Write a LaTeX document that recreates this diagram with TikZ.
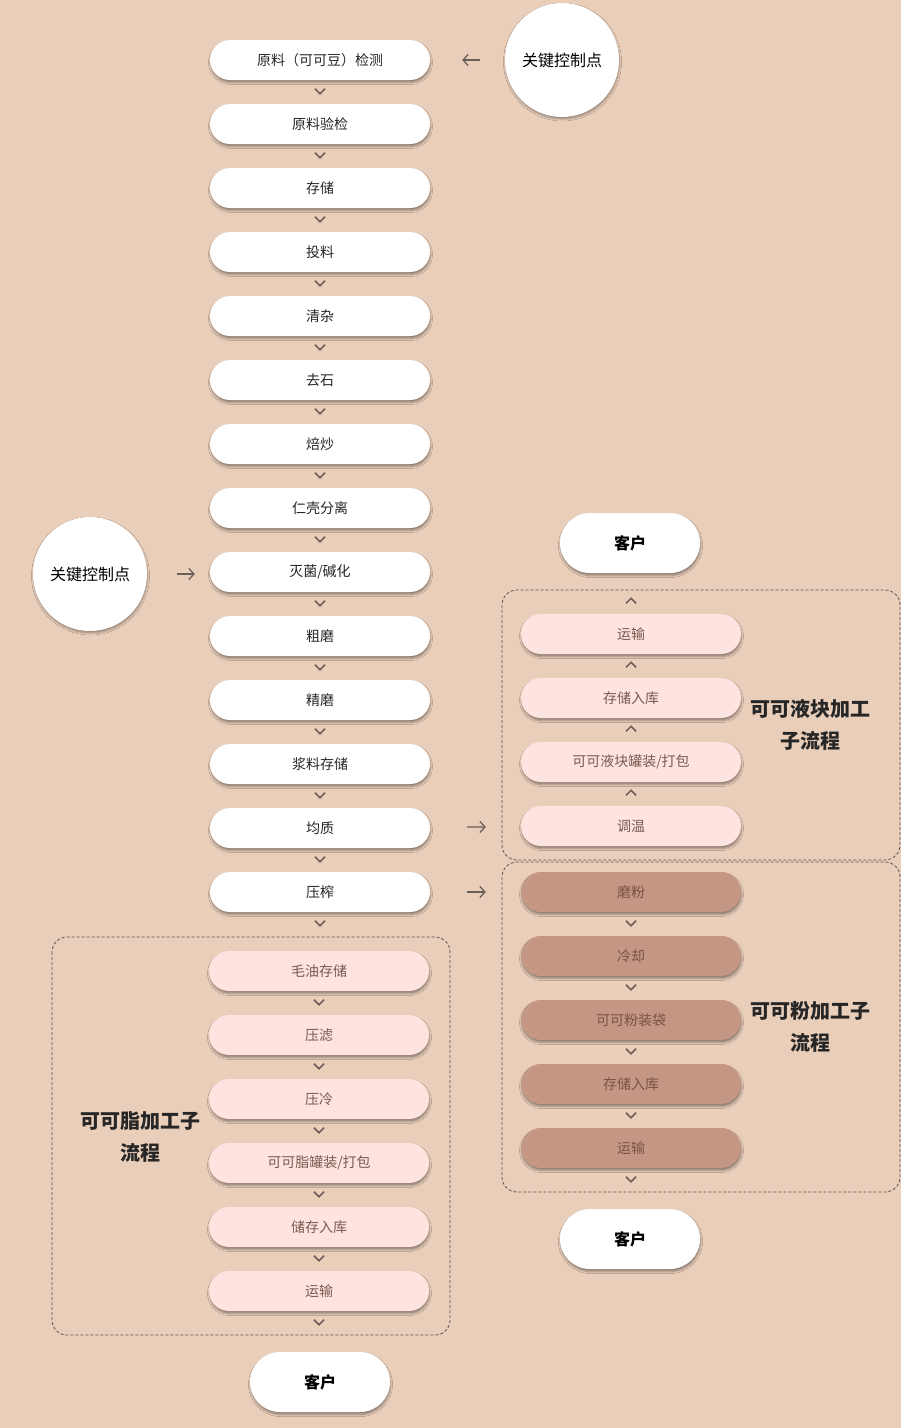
\documentclass[tikz,border=0pt]{standalone}
\usepackage{fontspec}
\setmainfont{Noto Sans CJK SC}
\usetikzlibrary{calc,arrows.meta,shadows.blur}
\definecolor{bgtan}{HTML}{E9CEBA}
\definecolor{pinkbox}{HTML}{FDE4E1}
\definecolor{brownbox}{HTML}{C49684}
\definecolor{chevgray}{HTML}{6B5D57}
\definecolor{pinktext}{HTML}{7A5A50}
\definecolor{browntext}{HTML}{7A5245}
\definecolor{framegray}{HTML}{58524F}

\begin{document}
\begin{tikzpicture}[x=1pt,y=-1pt,
  stepbox/.style={rectangle,rounded corners=20pt,minimum width=220pt,minimum height=40pt,
    inner sep=0pt,fill=white,text=black!85,font=\fontsize{14}{16}\selectfont,
    blur shadow={shadow xshift=0.5pt,shadow yshift=-2.5pt,shadow blur radius=2pt,shadow opacity=38}},
  pinkstep/.style={stepbox,fill=pinkbox,text=pinktext},
  brownstep/.style={stepbox,fill=brownbox,text=browntext},
  keypoint/.style={circle,minimum size=114pt,inner sep=0pt,fill=white,
    font=\fontsize{16}{18}\selectfont,
    blur shadow={shadow xshift=0.5pt,shadow yshift=-2pt,shadow blur radius=2pt,shadow opacity=35}},
  client/.style={stepbox,rounded corners=30pt,minimum width=140pt,minimum height=60pt,
    font=\fontsize{16}{18}\selectfont\bfseries,text=black},
  grouplabel/.style={align=center,font=\fontsize{20}{32}\selectfont\bfseries,text=black!85},
  groupframe/.style={draw=framegray,dash pattern=on 3pt off 2pt,line width=0.8pt,rounded corners=15pt},
  chev/.style={draw=chevgray,line width=1.5pt},
  hint/.style={draw=chevgray,line width=1.3pt,-{Straight Barb[length=5pt,width=11pt]}}]
\fill[bgtan] (0,0) rectangle (901,1428);
\useasboundingbox (0,0) rectangle (901,1428);

\newcommand{\chevdn}[1]{\draw[chev] ($(#1)+(-5,-2.5)$) -- ($(#1)+(0,2.5)$) -- ($(#1)+(5,-2.5)$);}
\newcommand{\chevup}[1]{\draw[chev] ($(#1)+(-5,2.5)$) -- ($(#1)+(0,-2.5)$) -- ($(#1)+(5,2.5)$);}

% sub-process frames
\draw[groupframe] (502,590) rectangle (900,860);
\draw[groupframe] (502,862) rectangle (900,1192);
\draw[groupframe] (52,937) rectangle (450,1335);

% main line
\foreach \t [count=\i] in {原料（可可豆）检测,原料验检,存储,投料,清杂,去石,焙炒,仁壳分离,
    灭菌/碱化,粗磨,精磨,浆料存储,均质,压榨}{
  \node[stepbox] (m\i) at (320,{60+64*(\i-1)}) {\t};
  \chevdn{$(m\i.south)+(0,11)$}
}

% cocoa butter
\foreach \t [count=\i] in {毛油存储,压滤,压冷,可可脂罐装/打包,储存入库,运输}{
  \node[pinkstep] (b\i) at (319,{971+64*(\i-1)}) {\t};
  \chevdn{$(b\i.south)+(0,11)$}
}
\node[grouplabel] (blabel) at (140,1137) {可可脂加工子\\流程};

% cocoa liquor
\foreach \t [count=\i] in {运输,存储入库,可可液块罐装/打包,调温}{
  \node[pinkstep] (l\i) at (631,{634+64*(\i-1)}) {\t};
  \chevup{$(l\i.north)+(0,-13)$}
}
\node[grouplabel] (llabel) at (810,725) {可可液块加工\\子流程};

% cocoa powder
\foreach \t [count=\i] in {磨粉,冷却,可可粉装袋,存储入库,运输}{
  \node[brownstep] (p\i) at (631,{892+64*(\i-1)}) {\t};
  \chevdn{$(p\i.south)+(0,11)$}
}
\node[grouplabel] (plabel) at (810,1027) {可可粉加工子\\流程};

% key control points
\node[keypoint] (k1) at (562,60) {关键控制点};
\node[keypoint] (k2) at (90,574) {关键控制点};
\draw[hint,shorten <=25pt,shorten >=32pt] (k1) -- (m1);
\draw[hint,shorten <=30pt,shorten >=15pt] (k2.east) -- (m9.west |- k2.east);
\draw[hint,shorten <=37pt,shorten >=35pt] (m13) -- (l4);
\draw[hint,shorten <=37pt,shorten >=35pt] (m14) -- (p1);

% clients
\node[client] (c1) at (630,543) {客户};
\node[client] (c2) at (630,1239) {客户};
\node[client] (c3) at (320,1382) {客户};
\end{tikzpicture}
\end{document}
